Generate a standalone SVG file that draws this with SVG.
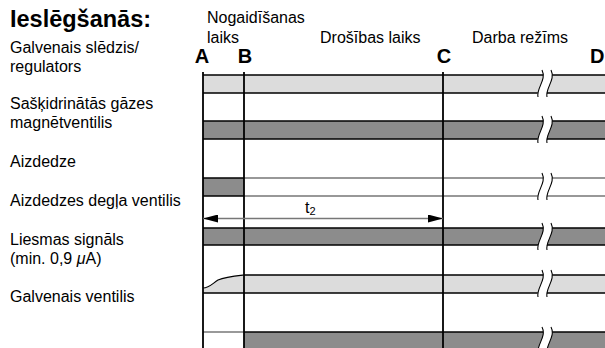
<svg xmlns="http://www.w3.org/2000/svg" width="605" height="348" viewBox="0 0 605 348">
<style>
text{font-family:"Liberation Sans",Arial,sans-serif;fill:#000}
.lbl{font-size:16px}
.ttl{font-size:23.5px;font-weight:bold}
.ltr{font-size:20px;font-weight:bold}
.light{fill:#dcdcdc}
.dark{fill:#8c8c8c}
.bl{stroke:#000;stroke-width:1.4;fill:none}
.gl{stroke:#777;stroke-width:1.4;fill:none}
.vl{stroke:#000;stroke-width:1.8}
.bw{fill:#fff}
.bs{stroke:#000;stroke-width:1.1;fill:none}
</style>
<defs>
<g id="brk">
<path class="bw" d="M542,-5 C547,5 536,13 538,22 L547,22 C545,13 556,5 551,-5 Z"/>
<path class="bs" d="M542,-5 C547,5 536,13 538,22"/>
<path class="bs" d="M551,-5 C556,5 545,13 547,22"/>
</g>
<marker id="ah" viewBox="0 0 15 8" refX="15" refY="4" markerWidth="15" markerHeight="8" markerUnits="userSpaceOnUse" orient="auto-start-reverse">
<path d="M0,0 L15,4 L0,8 Z" fill="#000"/>
</marker>
</defs>

<text class="ttl" x="10" y="27">Ieslēgšanās:</text>

<g id="labels">
<text class="lbl" x="10" y="53">Galvenais slēdzis/</text>
<text class="lbl" x="10" y="72">regulators</text>
<text class="lbl" x="10" y="109">Sašķidrinātās gāzes</text>
<text class="lbl" x="10" y="128">magnētventilis</text>
<text class="lbl" x="10" y="167">Aizdedze</text>
<text class="lbl" x="10" y="206">Aizdedzes degļa ventilis</text>
<text class="lbl" x="10" y="245">Liesmas signāls</text>
<text class="lbl" x="10" y="264">(min. 0,9 <tspan font-style="italic">μ</tspan>A)</text>
<text class="lbl" x="10" y="302">Galvenais ventilis</text>
</g>

<g id="phases">
<text class="lbl" x="207" y="23">Nogaidīšanas</text>
<text class="lbl" x="207" y="43">laiks</text>
<text class="lbl" x="320" y="43">Drošības laiks</text>
<text class="lbl" x="472" y="43">Darba režīms</text>
<text class="ltr" x="202" y="63" text-anchor="middle">A</text>
<text class="ltr" x="245" y="63" text-anchor="middle">B</text>
<text class="ltr" x="444" y="63" text-anchor="middle">C</text>
<text class="ltr" x="590" y="63">D</text>
</g>

<g id="row1">
<rect class="light" x="203" y="75" width="402" height="18"/>
<path class="bl" d="M203,75 H605 M203,93 H605"/>
<use href="#brk" transform="translate(0,75)"/>
</g>

<g id="row2">
<rect class="dark" x="203" y="121" width="402" height="18"/>
<path class="bl" d="M203,121 H605 M203,139 H605"/>
<use href="#brk" transform="translate(0,121)"/>
</g>

<g id="row3">
<rect class="dark" x="203" y="178" width="41" height="18"/>
<path class="bl" d="M203,178 H244 M203,196 H244"/>
<path class="gl" d="M244,178 H605 M244,196 H605"/>
<use href="#brk" transform="translate(0,178)"/>
</g>

<g id="row4">
<rect class="dark" x="203" y="228" width="402" height="17"/>
<path class="bl" d="M203,228 H605 M203,245 H605"/>
<use href="#brk" transform="translate(0,228)"/>
</g>

<g id="row5">
<path class="light" d="M203,293 V288 C209,288 212,284 218,280 C225,277 235,276 244,275 H605 V293 Z"/>
<path class="bs" d="M203,288 C209,288 212,284 218,280 C225,277 235,276 244,275"/>
<path class="bl" d="M244,275 H605 M203,293 H605"/>
<use href="#brk" transform="translate(0,275)"/>
</g>

<g id="row6">
<rect class="dark" x="244" y="332" width="361" height="16"/>
<path class="gl" d="M203,332 H244"/>
<path class="bl" d="M244,332 H605"/>
<use href="#brk" transform="translate(0,332)"/>
</g>

<g id="connectors">
<line class="vl" x1="203" y1="72" x2="203" y2="348"/>
<line class="vl" x1="244" y1="72" x2="244" y2="348"/>
<line class="vl" x1="443" y1="72" x2="443" y2="348"/>
<line x1="203" y1="218.5" x2="443" y2="218.5" stroke="#777" stroke-width="1.4" marker-start="url(#ah)" marker-end="url(#ah)"/>
</g>
<text class="lbl" x="305" y="213">t<tspan font-size="11" dy="2">2</tspan></text>
</svg>
